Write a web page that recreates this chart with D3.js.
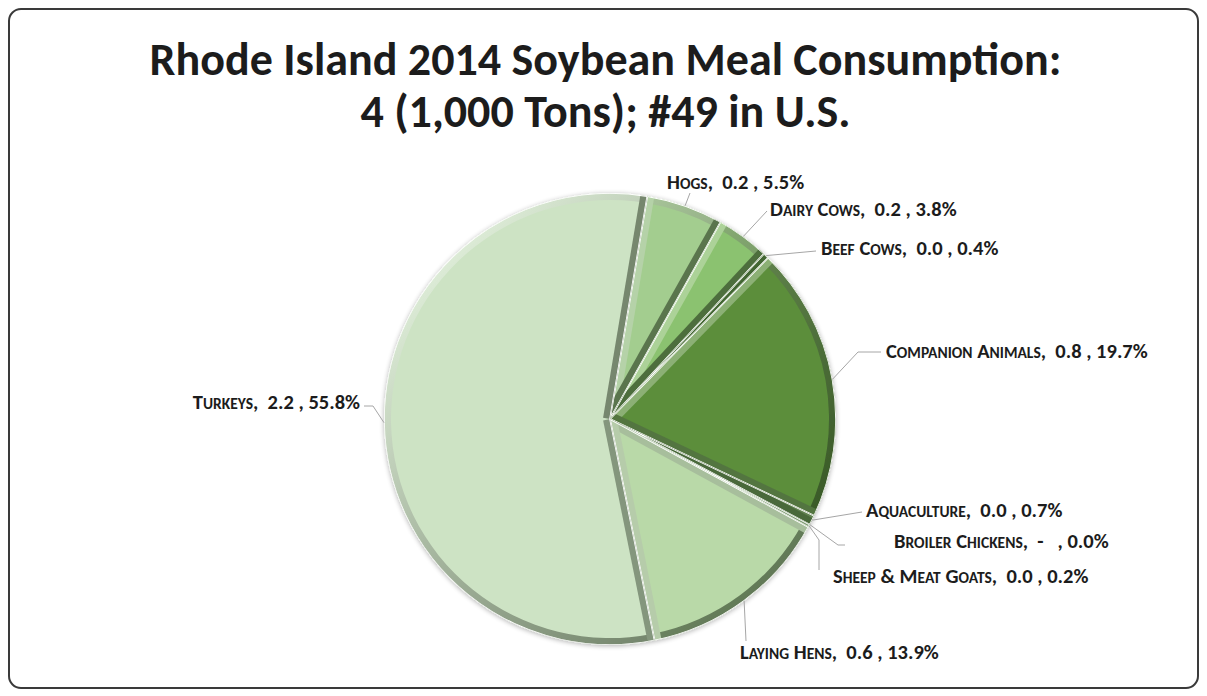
<!DOCTYPE html>
<html>
<head>
<meta charset="utf-8">
<script src="https://cdn.jsdelivr.net/npm/d3@7"></script>
<style>
  html, body { margin: 0; padding: 0; background: #ffffff; }
  svg { display: block; }
  text { font-family: Carlito, Calibri, Lato, "Open Sans", sans-serif; font-weight: 700; fill: #1c1c1c; white-space: pre; }
</style>
</head>
<body>
<svg id="chart" width="1207" height="696"></svg>
<script>
// Soybean meal consumption by animal group, Rhode Island 2014
const titleLines = ["Rhode Island 2014 Soybean Meal Consumption:", "4 (1,000 Tons); #49 in U.S."];
const categories = ["Hogs", "Dairy Cows", "Beef Cows", "Companion Animals", "Aquaculture",
                    "Broiler Chickens", "Sheep & Meat Goats", "Laying Hens", "Turkeys"];
const tons = ["0.2", "0.2", "0.0", "0.8", "0.0", "-  ", "0.0", "0.6", "2.2"];   // 1,000 tons
const shares = [5.5, 3.8, 0.4, 19.7, 0.7, 0.0, 0.2, 13.9, 55.8];                // percent
const fills = ["#a3cd8f", "#8bc26f", "#74b055", "#5b8e3a", "#46752e",
               "#9cc787", "#a7d093", "#b9d9a8", "#cde3c4"];

// label placement: text anchor point and leader elbow
const labelLayout = {
  "Hogs":               { x: 667, y: 189, anchor: "start", elbow: [[690, 193]] },
  "Dairy Cows":         { x: 770, y: 216, anchor: "start", elbow: [[767, 211]] },
  "Beef Cows":          { x: 821, y: 255, anchor: "start", elbow: [[816, 251]] },
  "Companion Animals":  { x: 886, y: 358, anchor: "start", elbow: [[858, 352], [881, 352]] },
  "Aquaculture":        { x: 866, y: 517, anchor: "start", elbow: [[862, 512]] },
  "Broiler Chickens":   { x: 894, y: 548, anchor: "start", elbow: [[838, 545], [845, 545]] },
  "Sheep & Meat Goats": { x: 833, y: 583, anchor: "start", elbow: [[819, 540], [819, 570]] },
  "Laying Hens":        { x: 740, y: 659, anchor: "start", elbow: [[746, 641]] },
  "Turkeys":            { x: 360, y: 409, anchor: "end",   elbow: [[373, 406], [364, 406]] }
};

const svg = d3.select("#chart");
const W = 1207, H = 696;

// frame
svg.append("rect")
  .attr("x", 9).attr("y", 9).attr("width", W - 18).attr("height", H - 17)
  .attr("rx", 12).attr("ry", 12)
  .attr("fill", "#ffffff").attr("stroke", "#3a3a3a").attr("stroke-width", 2);

// title
svg.selectAll("text.title").data(titleLines).join("text")
  .attr("class", "title")
  .attr("x", W / 2 + 2)
  .attr("y", (d, i) => 75 + i * 52)
  .attr("text-anchor", "middle")
  .attr("font-size", 46)
  .attr("textLength", (d, i) => i === 0 ? 912 : 490)
  .attr("lengthAdjust", "spacingAndGlyphs")
  .text(d => d);

// pie
const cx = 610, cy = 419, R = 226, rim = 7;
const startAngle = 9.5 * Math.PI / 180;
const data = categories.map((c, i) => ({ name: c, tons: tons[i], share: shares[i], fill: fills[i] }));
const pie = d3.pie().sort(null).value(d => d.share)
  .startAngle(startAngle).endAngle(startAngle + 2 * Math.PI);
const arcs = pie(data);
const arc = d3.arc().innerRadius(0).outerRadius(R);
const rimArc = d3.arc().innerRadius(R - rim).outerRadius(R);

const defs = svg.append("defs");
const shadow = defs.append("filter").attr("id", "pieShadow")
  .attr("x", "-10%").attr("y", "-10%").attr("width", "120%").attr("height", "120%");
shadow.append("feGaussianBlur").attr("in", "SourceAlpha").attr("stdDeviation", 2.5).attr("result", "b");
shadow.append("feOffset").attr("in", "b").attr("dx", 0).attr("dy", 1).attr("result", "o");
shadow.append("feComponentTransfer").attr("in", "o").attr("result", "s")
  .append("feFuncA").attr("type", "linear").attr("slope", 0.3);
const sm = shadow.append("feMerge");
sm.append("feMergeNode").attr("in", "s");
sm.append("feMergeNode").attr("in", "SourceGraphic");

const light = [-Math.SQRT1_2, -Math.SQRT1_2];   // light from top-left
const lightC = f => d3.interpolateRgb(f, "#ffffff")(0.3);
const darkC = f => d3.interpolateRgb(f, "#1a2a14")(0.55);
const shadeAt = (f, n) => d3.interpolateRgb(darkC(f), lightC(f))((n[0] * light[0] + n[1] * light[1] + 1) / 2);

arcs.forEach((a, i) => {
  // gradient coordinates are in the slice group's (centred) space
  const g = defs.append("linearGradient").attr("id", "rimGrad" + i)
    .attr("gradientUnits", "userSpaceOnUse")
    .attr("x1", -R * Math.SQRT1_2).attr("y1", -R * Math.SQRT1_2)
    .attr("x2", R * Math.SQRT1_2).attr("y2", R * Math.SQRT1_2);
  g.append("stop").attr("offset", 0).attr("stop-color", lightC(a.data.fill));
  g.append("stop").attr("offset", 0.45).attr("stop-color", d3.interpolateRgb(lightC(a.data.fill), darkC(a.data.fill))(0.5));
  g.append("stop").attr("offset", 1).attr("stop-color", darkC(a.data.fill));
  defs.append("clipPath").attr("id", "clip" + i)
    .append("path").attr("d", arc(a)).attr("transform", `translate(${cx},${cy})`);
});

const pieG = svg.append("g").attr("filter", "url(#pieShadow)");
const slices = pieG.selectAll("g.slice").data(arcs).join("g")
  .attr("class", "slice")
  .attr("clip-path", (d, i) => `url(#clip${i})`);

slices.each(function (a, i) {
  const s = d3.select(this).append("g").attr("transform", `translate(${cx},${cy})`);
  if (a.endAngle - a.startAngle <= 0) return;
  s.append("path").attr("d", arc(a)).attr("fill", a.data.fill);
  s.append("path").attr("d", rimArc(a)).attr("fill", `url(#rimGrad${i})`);
  // radial bevel edges
  const edges = [
    { ang: a.startAngle, n: [-Math.cos(a.startAngle), -Math.sin(a.startAngle)] },
    { ang: a.endAngle,   n: [ Math.cos(a.endAngle),    Math.sin(a.endAngle)] }
  ];
  edges.forEach(e => {
    s.append("line")
      .attr("x1", 0).attr("y1", 0)
      .attr("x2", R * Math.sin(e.ang)).attr("y2", -R * Math.cos(e.ang))
      .attr("stroke", shadeAt(a.data.fill, e.n))
      .attr("stroke-width", rim * 2);
  });
  s.append("path").attr("d", arc(a))
    .attr("fill", "none").attr("stroke", "#ffffff").attr("stroke-width", 1.6);
});

// leader lines
const lineGen = d3.line();
arcs.forEach(a => {
  const lay = labelLayout[a.data.name];
  const mid = (a.startAngle + a.endAngle) / 2;
  const p0 = [cx + R * Math.sin(mid), cy - R * Math.cos(mid)];
  svg.append("path")
    .attr("d", lineGen([p0, ...lay.elbow]))
    .attr("fill", "none").attr("stroke", "#a6a6a6").attr("stroke-width", 1);
});

// labels: category in small caps, then value and share
arcs.forEach(a => {
  const lay = labelLayout[a.data.name];
  const t = svg.append("text")
    .attr("x", lay.x).attr("y", lay.y)
    .attr("text-anchor", lay.anchor)
    .attr("font-size", 20.5);
  const words = a.data.name.split(" ");
  words.forEach((w, wi) => {
    const first = w[0];
    const rest = w.slice(1).toUpperCase();
    t.append("tspan").attr("font-size", 20.5).text((wi > 0 ? " " : "") + first);
    if (rest) t.append("tspan").attr("font-size", 15.5).text(rest);
  });
  t.append("tspan").attr("font-size", 20.5)
    .text(`,  ${a.data.tons} , ${a.data.share.toFixed(1)}%`);
});
</script>
</body>
</html>
